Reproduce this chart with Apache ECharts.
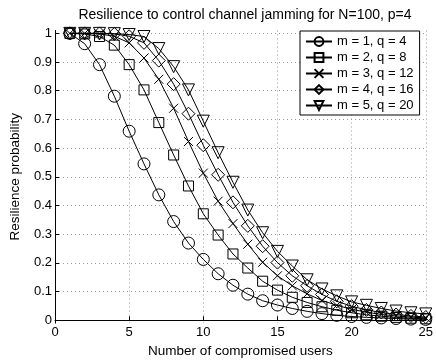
<!DOCTYPE html>
<html>
<head>
<meta charset="utf-8">
<script src="https://cdn.jsdelivr.net/npm/echarts@6/dist/echarts.min.js"></script>
<style>
  html, body { margin: 0; padding: 0; background: #fff; }
  #chart { width: 436px; height: 363px; }
</style>
</head>
<body>
<div id="chart"></div>
<script>
// ---- data ----
var USERS = [1, 2, 3, 4, 5, 6, 7, 8, 9, 10, 11, 12, 13, 14, 15, 16, 17, 18, 19, 20, 21, 22, 23, 24, 25];

var M1_Q4 = [1.0, 0.964, 0.891, 0.781, 0.659, 0.545, 0.437, 0.344, 0.269, 0.212, 0.162, 0.122, 0.091, 0.068, 0.053,
  0.041, 0.031, 0.023, 0.017, 0.013, 0.010, 0.008, 0.006, 0.004, 0.003];
var M2_Q8 = [1.0, 0.998, 0.989, 0.959, 0.891, 0.803, 0.689, 0.576, 0.468, 0.371, 0.297, 0.231, 0.182, 0.136, 0.105,
  0.080, 0.062, 0.047, 0.035, 0.026, 0.019, 0.014, 0.010, 0.007, 0.005];
var M3_Q12 = [1.0, 1.0, 0.998, 0.99, 0.967, 0.914, 0.84, 0.739, 0.623, 0.513, 0.415, 0.337, 0.265, 0.202, 0.155,
  0.120, 0.092, 0.069, 0.052, 0.038, 0.028, 0.020, 0.015, 0.011, 0.008];
var M4_Q16 = [1.0, 1.0, 1.0, 0.998, 0.99, 0.967, 0.905, 0.823, 0.72, 0.61, 0.507, 0.411, 0.329, 0.258, 0.201,
  0.155, 0.12, 0.09, 0.066, 0.049, 0.036, 0.027, 0.020, 0.015, 0.011];
var M5_Q20 = [1.0, 1.0, 1.0, 0.999, 0.996, 0.989, 0.947, 0.884, 0.803, 0.694, 0.584, 0.481, 0.384, 0.305, 0.24,
  0.189, 0.141, 0.109, 0.085, 0.064, 0.052, 0.041, 0.032, 0.026, 0.022];

var SERIES_NAMES = ['m = 1, q = 4', 'm = 2, q = 8', 'm = 3, q = 12', 'm = 4, q = 16', 'm = 5, q = 20'];
var X_TICKS = [0, 5, 10, 15, 20, 25];
var Y_TICKS = [0, 0.1, 0.2, 0.3, 0.4, 0.5, 0.6, 0.7, 0.8, 0.9, 1];

// ---- marker styles (matlab-like, hollow) ----
var MARKERS = [
  { symbol: 'circle', size: 12 },
  { symbol: 'rect', size: 10 },
  { symbol: 'path://M0,0 L10,10 M10,0 L0,10', size: 9 },
  { symbol: 'path://M5,0 L10,5 L5,10 L0,5 Z', size: 13 },
  { symbol: 'path://M0,0 L10,0 L5,9 Z', size: 12 }
];

var FONT = '"Liberation Sans", Arial, Helvetica, sans-serif';

function pairs(ys) {
  return USERS.map(function(x, i) { return [x, ys[i]]; });
}

var allValues = [M1_Q4, M2_Q8, M3_Q12, M4_Q16, M5_Q20];

var series = allValues.map(function(ys, i) {
  return {
    name: SERIES_NAMES[i],
    type: 'line',
    data: pairs(ys),
    symbol: MARKERS[i].symbol,
    symbolSize: MARKERS[i].size,
    showAllSymbol: true,
    lineStyle: { color: '#000', width: 1 },
    itemStyle: { color: 'rgba(0,0,0,0)', borderColor: '#000', borderWidth: 1 },
    emphasis: { disabled: true },
    z: 3 + i
  };
});

var dotted = { color: '#9a9a9a', width: 1, type: [1, 3] };

var chart = echarts.init(document.getElementById('chart'), null, { renderer: 'canvas' });
chart.setOption({
  backgroundColor: '#fff',
  animation: false,
  textStyle: { fontFamily: FONT },
  title: {
    text: 'Resilience to control channel jamming for N=100, p=4',
    left: 240, top: 3, textAlign: 'center',
    textStyle: { fontFamily: FONT, fontSize: 14, fontWeight: 'normal', color: '#000' }
  },
  grid: { left: 47.7, right: 7, top: 30.5, bottom: 30.5 },
  legend: {
    orient: 'vertical',
    left: 300, top: 31,
    itemWidth: 26, itemHeight: 11, itemGap: 3,
    padding: [4, 6, 3, 5],
    backgroundColor: '#fff',
    borderColor: '#000', borderWidth: 1,
    textStyle: { fontFamily: FONT, fontSize: 13, color: '#000' },
    data: SERIES_NAMES
  },
  xAxis: {
    type: 'value', min: 0, max: 25, interval: 5,
    name: 'Number of compromised users',
    nameLocation: 'middle', nameGap: 16,
    nameTextStyle: { fontFamily: FONT, fontSize: 13.5, color: '#000' },
    axisLine: { lineStyle: { color: '#000', width: 1 } },
    axisTick: { inside: true, length: 4, lineStyle: { color: '#000' } },
    axisLabel: { fontFamily: FONT, fontSize: 13, color: '#000', margin: 3 },
    splitLine: { show: true, lineStyle: dotted }
  },
  yAxis: {
    type: 'value', min: -0.01, max: 1.01,
    name: 'Resilience probability',
    nameLocation: 'middle', nameGap: 33, nameRotate: 90,
    nameTextStyle: { fontFamily: FONT, fontSize: 13.5, color: '#000' },
    axisLine: { show: true, lineStyle: { color: '#000', width: 1 } },
    axisTick: { show: true, inside: true, length: 4, lineStyle: { color: '#000' }, customValues: Y_TICKS },
    axisLabel: {
      fontFamily: FONT, fontSize: 13, color: '#000', margin: 3,
      customValues: Y_TICKS,
      formatter: function(v) { return String(Math.round(v * 10) / 10); }
    },
    splitLine: { show: true, lineStyle: dotted }
  },
  series: series
});
</script>
</body>
</html>
